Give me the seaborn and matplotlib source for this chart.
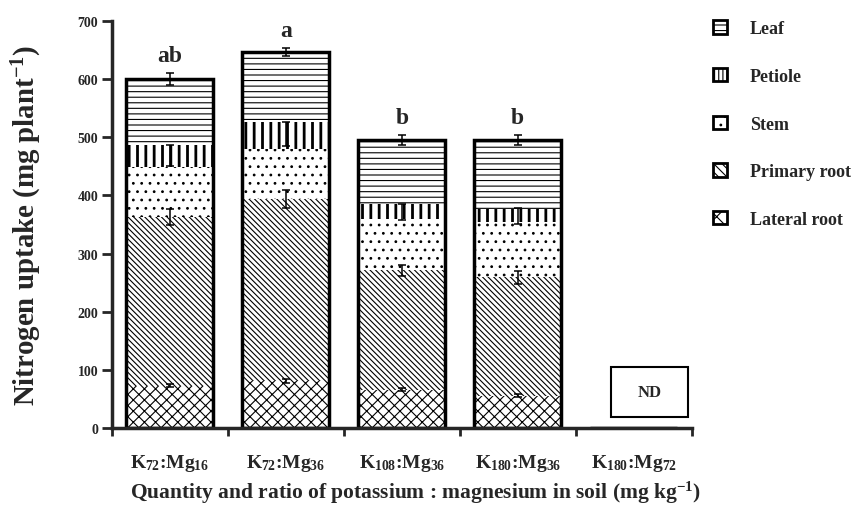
import matplotlib
matplotlib.use("Agg")
import matplotlib.pyplot as plt
from matplotlib.patches import Patch, Rectangle
import seaborn as sns
import numpy as np
import pandas as pd

# ---- data ----
categories = ["K$_{72}$:Mg$_{16}$", "K$_{72}$:Mg$_{36}$", "K$_{108}$:Mg$_{36}$",
              "K$_{180}$:Mg$_{36}$", "K$_{180}$:Mg$_{72}$"]
lateral_root = [73, 81, 66, 56, 0]
primary_root = [290, 313, 205, 203, 0]
stem = [86, 86, 89, 95, 0]
petiole = [37, 46, 25, 23, 0]
leaf = [114, 121, 110, 118, 0]

lateral_err = [3, 4, 3, 3]
primary_err = [14, 15, 10, 11]
petiole_err_lo = [36, 42, 27, 27]
petiole_err_hi = [1, 0, 0, 1]
total_err = [10, 7, 9, 8]
letters = ["ab", "a", "b", "b"]
series_names = ["Leaf", "Petiole", "Stem", "Primary root", "Lateral root"]
hatches = ["---", "||", "..", "\\" * 6, "xxx"]
legend_hatches = ["---", "||||", "..", "\\" * 4, "xx"]

sns.set_theme(style="ticks")
plt.rcParams["font.family"] = ["Liberation Serif", "DejaVu Serif"]
plt.rcParams["font.weight"] = "bold"
plt.rcParams["mathtext.fontset"] = "custom"
plt.rcParams["mathtext.rm"] = "Liberation Serif:bold"
plt.rcParams["mathtext.it"] = "Liberation Serif:bold"
plt.rcParams["mathtext.bf"] = "Liberation Serif:bold"
plt.rcParams["hatch.linewidth"] = 0.8

fig = plt.figure(figsize=(8.55, 5.06), dpi=100)
ax = fig.add_axes([0.131, 0.152, 0.678, 0.805])

segments = [lateral_root, primary_root, stem, petiole, leaf]
cum = np.cumsum(np.array(segments, dtype=float), axis=0)  # rows: cumulative tops
order = [4, 3, 2, 1, 0]
hatch_for_row = {0: hatches[4], 1: hatches[3], 2: hatches[2], 3: hatches[1], 4: hatches[0]}
for r in order:
    df = pd.DataFrame({"cat": categories, "val": cum[r]})
    n0 = len(ax.patches)
    sns.barplot(data=df, x="cat", y="val", order=categories, color="white",
                width=0.75, errorbar=None, ax=ax, linewidth=0, edgecolor="black",
                hatch=hatch_for_row[r], saturation=1)
    for p in ax.patches[n0:]:
        p.set_facecolor("white")
        p.set_edgecolor("black")
        p.set_linewidth(0)
        if hasattr(p, "set_hatch_linewidth"):
            p.set_hatch_linewidth(2.0 if r == 3 else 0.8)

df_tot = pd.DataFrame({"cat": categories, "val": cum[4]})
sns.barplot(data=df_tot, x="cat", y="val", order=categories, fill=False,
            width=0.75, errorbar=None, ax=ax, linewidth=2.5, edgecolor="black")

xs = np.arange(4)
tot = cum[4][:4]
ekw = dict(fmt="none", ecolor="black", elinewidth=1.1, capsize=3, capthick=1.1, zorder=5)
ax.errorbar(xs, tot, yerr=total_err, **ekw)
ax.errorbar(xs, cum[3][:4], yerr=[petiole_err_lo, petiole_err_hi], **ekw)
ax.errorbar(xs, cum[1][:4], yerr=primary_err, **ekw)
ax.errorbar(xs, cum[0][:4], yerr=lateral_err, **ekw)

for x, t, e, lab in zip(xs, tot, total_err, letters):
    ax.text(x, t + e + 30, lab, ha="center", va="center", fontsize=17, fontweight="bold")

ax.add_patch(Rectangle((3.805, 19), 0.665, 86, facecolor="white", edgecolor="black",
                       linewidth=1.5, zorder=4))
ax.text(4.138, 62, "ND", ha="center", va="center", fontsize=12, fontweight="bold", zorder=5)

ax.set_xlim(-0.5, 4.5)
ax.set_ylim(0, 700)
ax.set_yticks(range(0, 701, 100))
ax.set_xticks(np.arange(-0.5, 4.6, 1), minor=False)
ax.set_xticklabels([""] * 6)
ax.set_xticks(np.arange(5), minor=True)
ax.set_xticklabels(categories, minor=True)
ax.tick_params(axis="x", which="minor", length=0, pad=17, labelsize=14)
ax.tick_params(axis="x", which="major", length=6, width=2)
ax.tick_params(axis="y", length=7, width=2, labelsize=10, pad=3)
for lab in ax.get_xticklabels(minor=True) + ax.get_yticklabels():
    lab.set_fontweight("bold")
for s in ["top", "right"]:
    ax.spines[s].set_visible(False)
for s in ["left", "bottom"]:
    ax.spines[s].set_linewidth(2.5)

ax.set_ylabel("Nitrogen uptake (mg plant$^{-1}$)", fontsize=20.8, fontweight="bold")
ax.yaxis.set_label_coords(-0.117, 0.5)
ax.set_xlabel("Quantity and ratio of potassium : magnesium in soil (mg kg$^{-1}$)",
              fontsize=15.5, fontweight="bold")
ax.xaxis.set_label_coords(0.524, -0.125)

handles = [Patch(facecolor="white", edgecolor="black", hatch=h, linewidth=2)
           for h in legend_hatches]
leg = fig.legend(handles, series_names, loc="upper left", bbox_to_anchor=(0.815, 0.99),
                 frameon=False, handlelength=0.75, handleheight=0.75,
                 labelspacing=1.70, handletextpad=1.3, prop={"weight": "bold", "size": 13})

fig.savefig("out.png", dpi=100)
